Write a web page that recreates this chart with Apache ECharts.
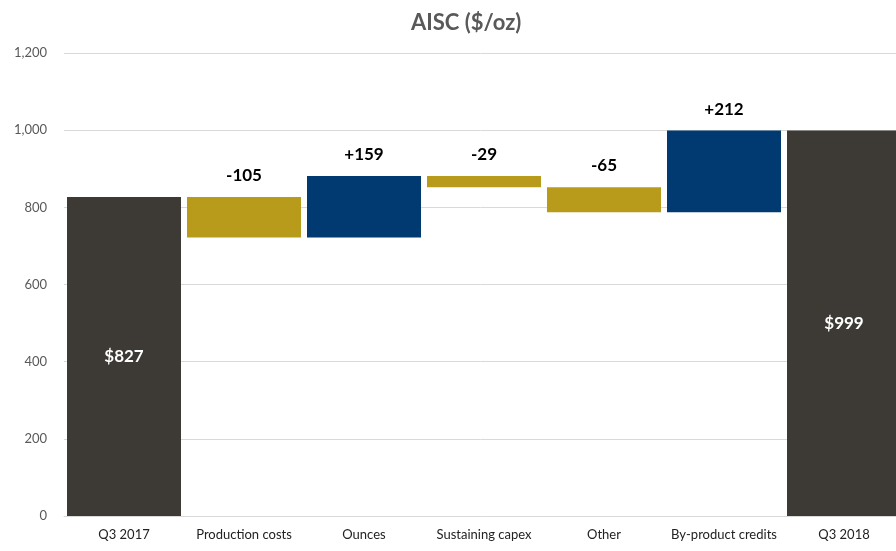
<!DOCTYPE html>
<html><head><meta charset="utf-8">
<script src="https://cdn.jsdelivr.net/npm/echarts@6/dist/echarts.min.js"></script>
<style>html,body{margin:0;padding:0;background:#fff}#c{width:896px;height:551px}</style>
</head><body><div id="c"></div>
<script>
const categories = ["Q3 2017","Production costs","Ounces","Sustaining capex","Other","By-product credits","Q3 2018"];
const startValue = 827;
const deltas = [-105, 159, -29, -65, 212];
const endValue = 999;
const yTicks = {min:0, max:1200, interval:200};

const C_TOTAL = '#3D3935', C_UP = '#003A70', C_DOWN = '#B89B1B';
const FONT = 'Lato';

// build waterfall from data
const base = [0], vis = [{value:startValue, itemStyle:{color:C_TOTAL}, label:{show:true, position:'inside', formatter:'$'+startValue, color:'#fff', fontSize:17, fontWeight:'bold'}}];
let run = startValue;
deltas.forEach(d => {
  const lo = d < 0 ? run + d : run;
  base.push(lo);
  vis.push({value:Math.abs(d), itemStyle:{color: d<0 ? C_DOWN : C_UP},
    label:{show:true, position:'top', distance:13, formatter:(d>0?'+':'')+d, color:'#000', fontSize:17, fontWeight:'bold'}});
  run += d;
});
base.push(0);
vis.push({value:endValue, itemStyle:{color:C_TOTAL}, label:{show:true, position:'inside', formatter:'$'+endValue, color:'#fff', fontSize:17, fontWeight:'bold'}});

const chart = echarts.init(document.getElementById('c'), null, {renderer:'canvas'});
chart.setOption({
  animation:false,
  textStyle:{fontFamily:FONT},
  title:{text:'AISC ($/oz)', left:406, top:7, textStyle:{fontFamily:FONT, fontSize:22, fontWeight:'bold', color:'#595959'}},
  grid:{left:64, width:840, top:53, bottom:35, containLabel:false, outerBoundsMode:'none'},
  xAxis:{type:'category', data:categories,
    axisLine:{show:true, lineStyle:{color:'#d9d9d9'}}, axisTick:{show:false},
    axisLabel:{color:'#222', fontSize:13, fontFamily:FONT, margin:12, interval:0}},
  yAxis:{type:'value', min:yTicks.min, max:yTicks.max, interval:yTicks.interval,
    axisLine:{show:false}, axisTick:{show:false},
    splitLine:{lineStyle:{color:'#d9d9d9'}},
    axisLabel:{color:'#595959', fontSize:13, fontFamily:FONT, margin:17}},
  series:[
    {type:'bar', stack:'w', data:base, itemStyle:{color:'transparent'}, barCategoryGap:'5%', silent:true},
    {type:'bar', stack:'w', data:vis, barCategoryGap:'5%'}
  ]
});
</script></body></html>
